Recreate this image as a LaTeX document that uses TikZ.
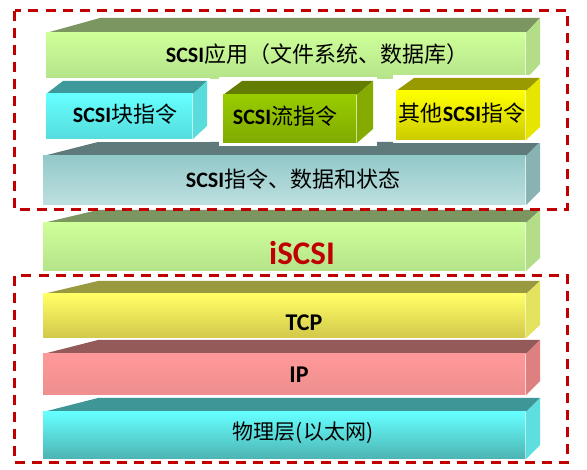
\documentclass[tikz,border=0pt]{standalone}
\usepackage{fontspec}
\setmainfont{Carlito}
\newfontfamily\cjk{Noto Sans CJK SC}
\newcommand\drawslab[8]{% x0 x1 ytop ybot yback xbackleft dx style
  \fill[#8 top] (#1,#3) -- (#6,#5) -- (#2+#7,#5) -- (#2,#3) -- cycle;
  \fill[#8 side] (#2,#3) -- (#2+#7,#5) -- (#2+#7,#4+#5-#3) -- (#2,#4) -- cycle;
  \shade[#8 front] (#1,#3) rectangle (#2,#4);
  \draw[white,opacity=0.6,line width=0.8pt] (#2-1,#3) -- (#2-1,#4);
}
\tikzset{
  A top/.style={fill={rgb,255:red,123;green,150;blue,96}},
  A side/.style={fill={rgb,255:red,180;green,221;blue,136}},
  A front/.style={top color={rgb,255:red,206;green,255;blue,153},bottom color={rgb,255:red,181;green,227;blue,138}},
  Cy top/.style={fill={rgb,255:red,62;green,154;blue,154}},
  Cy side/.style={fill={rgb,255:red,90;green,220;blue,220}},
  Cy front/.style={top color={rgb,255:red,102;green,255;blue,255},bottom color={rgb,255:red,85;green,220;blue,220}},
  Gr top/.style={fill={rgb,255:red,99;green,125;blue,0}},
  Gr side/.style={fill={rgb,255:red,133;green,170;blue,0}},
  Gr front/.style={top color={rgb,255:red,153;green,204;blue,0},bottom color={rgb,255:red,127;green,170;blue,0}},
  Ye top/.style={fill={rgb,255:red,153;green,153;blue,0}},
  Ye side/.style={fill={rgb,255:red,229;green,229;blue,0}},
  Ye front/.style={top color={rgb,255:red,255;green,255;blue,0},bottom color={rgb,255:red,204;green,204;blue,0}},
  Gy top/.style={fill={rgb,255:red,94;green,122;blue,122}},
  Gy side/.style={fill={rgb,255:red,137;green,178;blue,178}},
  Gy front/.style={top color={rgb,255:red,147;green,201;blue,201},bottom color={rgb,255:red,190;green,223;blue,223}},
  Tc top/.style={fill={rgb,255:red,153;green,153;blue,64}},
  Tc side/.style={fill={rgb,255:red,227;green,227;blue,95}},
  Tc front/.style={top color={rgb,255:red,255;green,255;blue,102},bottom color={rgb,255:red,210;green,200;blue,74}},
  Ip top/.style={fill={rgb,255:red,148;green,90;blue,90}},
  Ip side/.style={fill={rgb,255:red,223;green,128;blue,128}},
  Ip front/.style={top color={rgb,255:red,255;green,153;blue,153},bottom color={rgb,255:red,238;green,142;blue,142}},
  Ph top/.style={fill={rgb,255:red,62;green,150;blue,150}},
  Ph side/.style={fill={rgb,255:red,94;green,222;blue,222}},
  Ph front/.style={top color={rgb,255:red,102;green,255;blue,255},bottom color={rgb,255:red,77;green,179;blue,179}},
  dashbox/.style={draw={rgb,255:red,192;green,0;blue,0},line width=3pt,dash pattern=on 10pt off 7pt},
  lbl/.style={inner sep=0pt,font=\fontsize{22}{26}\selectfont},
}
\begin{document}
\begin{tikzpicture}[x=1pt,y=-1pt]
\useasboundingbox (0,0) rectangle (587,470);
\fill[white] (0,0) rectangle (587,470);
% layer bars
\drawslab{46}{526}{33}{79}{18}{100}{14}{A}
\drawslab{43}{526}{156}{205}{142}{98}{14}{Gy}
% small boxes with white margins
\fill[white] (43,78) rectangle (210,142);
\drawslab{46}{193}{94}{139}{81}{63}{14}{Cy}
\fill[white] (219,77) rectangle (377,146);
\drawslab{223}{357}{95}{143}{81}{242}{16}{Gr}
\fill[white] (393,75) rectangle (543,143);
\drawslab{396}{526}{91}{140}{78}{414}{14}{Ye}
\drawslab{43}{526}{223}{271}{210}{98}{14}{A}
\drawslab{43}{526}{294}{338}{281}{98}{14}{Tc}
\drawslab{43}{526}{354}{395}{340}{98}{14}{Ip}
\drawslab{43}{526}{412}{459}{398}{98}{14}{Ph}
% texts
\node[lbl] (tapp) at (317,54) {\textbf{SCSI}\cjk 应用（文件系统、数据库）};
\node[lbl] (tblk) at (125,114) {\textbf{SCSI}\cjk 块指令};
\node[lbl] (tstr) at (285,116) {\textbf{SCSI}\cjk 流指令};
\node[lbl] (toth) at (462,113) {{\cjk 其他}\textbf{SCSI}\cjk 指令};
\node[lbl] (tcmd) at (293,179) {\textbf{SCSI}\cjk 指令、数据和状态};
\node[inner sep=0pt,text={rgb,255:red,192;green,0;blue,0},font=\fontsize{33}{38}\selectfont\bfseries] (tis) at (302,253) {iSCSI};
\node[lbl,font=\fontsize{24}{28}\selectfont\bfseries] (ttcp) at (304,323) {TCP};
\node[lbl,font=\fontsize{24}{28}\selectfont\bfseries] (tip) at (299,375) {IP};
\node[lbl,font=\fontsize{21}{25}\selectfont\cjk] (tphy) at (303,433) {物理层(以太网)};
% dashed groups
\draw[dashbox] (14.5,11) rectangle (567,210);
\draw[dashbox] (14.5,276) rectangle (567,463);
\end{tikzpicture}
\end{document}
